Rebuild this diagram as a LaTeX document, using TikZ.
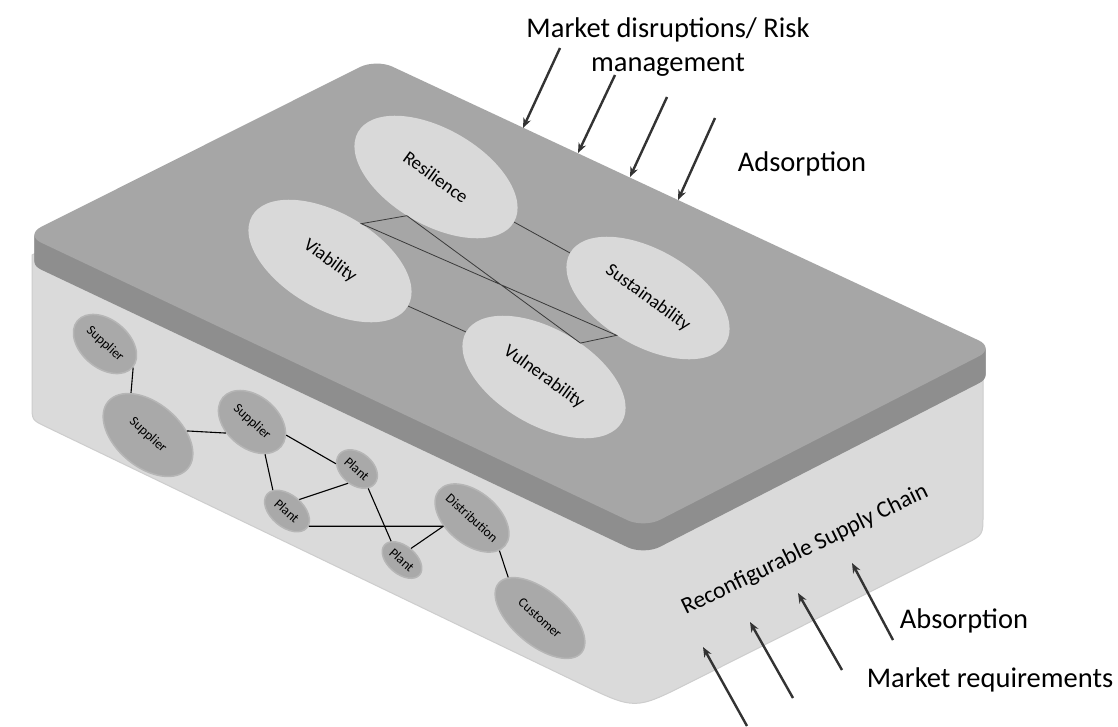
\documentclass[tikz,border=0pt]{standalone}
\usepackage{fontspec}
\setmainfont{Carlito}
\usetikzlibrary{shapes.geometric,arrows.meta}
\definecolor{topface}{HTML}{A6A6A6}
\definecolor{bandgray}{HTML}{8E8E8E}
\definecolor{boxgray}{HTML}{DADADA}
\definecolor{boxedge}{HTML}{CDCDCD}
\definecolor{ellgray}{HTML}{D9D9D9}
\definecolor{netgray}{HTML}{A9A9A9}
\definecolor{netrim}{HTML}{B6B6B6}
\definecolor{arrgray}{HTML}{333333}
\definecolor{linegray}{HTML}{3A3A3A}
\begin{document}
\begin{tikzpicture}[x=1pt,y=-1pt,
  topell/.style={ellipse, fill=ellgray, inner sep=0pt, minimum width=180pt, minimum height=96pt, rotate=-30},
  toptext/.style={font=\fontsize{18.5}{20}\selectfont, inner sep=0pt, rotate=-36},
  netell/.style={ellipse, fill=netgray, draw=netrim, line width=1.5pt, inner sep=0pt, rotate=-40},
  nettext/.style={font=\fontsize{13.5}{15}\selectfont, inner sep=0pt, rotate=-42},
  bigtext/.style={font=\fontsize{28.5}{34}\selectfont, inner sep=0pt, anchor=base},
  arr/.style={draw=arrgray, line width=2.4pt, -{Stealth[length=10pt,width=8pt]}},
  netline/.style={draw=black, line width=1.1pt},
  topline/.style={draw=linegray, line width=0.8pt}
]
\fill[white] (0,0) rectangle (1118,726);
\useasboundingbox (0,0) rectangle (1118,726);

% lower box
\fill[boxgray, draw=boxedge, line width=1pt]
  (32,255) -- (32,405) .. controls (32,420) .. (45.5,426.5)
  -- (580.9,684) .. controls (635,710) .. (688.6,683.1)
  -- (965.1,544) .. controls (983,535) .. (983,515)
  -- (983,360) -- (376,90) -- cycle;

% slab thickness
\foreach \d in {1,...,27}{
  \fill[bandgray, shift={(0,\d)}, rounded corners=18pt]
    (200.5,147) -- (376,59) -- (995,348) -- (644,528) -- (25,235) -- cycle;
}
% slab top face
\fill[topface, rounded corners=18pt]
  (200.5,147) -- (376,59) -- (995,348) -- (644,528) -- (25,235) -- cycle;

% top ellipses
\node[topell] (resil) at (436,177) {};
\node[topell] (viab)  at (330,261) {};
\node[topell] (sust)  at (648,298) {};
\node[topell] (vuln)  at (544,377) {};
\node[toptext] (resilT) at (resil.center) {Resilience};
\node[toptext] (viabT)  at (viab.center)  {Viability};
\node[toptext] (sustT)  at (sust.center)  {Sustainability};
\node[toptext] (vulnT)  at (vuln.center)  {Vulnerability};

\draw[topline] (resil.east) -- (sust.west);
\draw[topline] (viab.east) -- (vuln.west);
\draw[topline] (viab.80) -- (resil.263) -- (vuln.73) -- (sust.260) -- cycle;

% supply network
\node[netell, minimum width=72pt, minimum height=48pt]  (s1) at (105,344) {};
\node[netell, minimum width=104pt, minimum height=64pt] (s2) at (148,435) {};
\node[netell, minimum width=76pt, minimum height=52pt]  (s3) at (252,422) {};
\node[netell, minimum width=46pt, minimum height=32pt]  (p1) at (357,469) {};
\node[netell, minimum width=52pt, minimum height=32pt]  (p2) at (287,511) {};
\node[netell, minimum width=46pt, minimum height=28pt]  (p3) at (402,560) {};
\node[netell, minimum width=86pt, minimum height=52pt]  (dist) at (472,518) {};
\node[netell, minimum width=108pt, minimum height=54pt] (cust) at (540,618) {};
\node[nettext] (s1T) at (s1.center) {Supplier};
\node[nettext] (s2T) at (s2.center) {Supplier};
\node[nettext] (s3T) at (s3.center) {Supplier};
\node[nettext] (p1T) at (p1.center) {Plant};
\node[nettext] (p2T) at (p2.center) {Plant};
\node[nettext] (p3T) at (p3.center) {Plant};
\node[nettext] (distT) at (dist.center) {Distribution};
\node[nettext] (custT) at (cust.center) {Customer};

\draw[netline] (s1.east) -- (s2.152);
\draw[netline] (s2.46) -- (s3.243);
\draw[netline] (s3.19) -- (p1.206);
\draw[netline] (s3.-28) -- (p2.164);
\draw[netline] (p2.83) -- (p1.278);
\draw[netline] (p2.5) -- (dist.236);
\draw[netline] (p1.-20) -- (p3.160);
\draw[netline] (p3.92) -- (dist.236);
\draw[netline] (dist.-10) -- (cust.168);

% labels
\node[bigtext] (mkt1) at (668,37) {Market disruptions/ Risk};
\node[bigtext] (mkt2) at (668,71) {management};
\node[bigtext] (adso) at (802,171) {Adsorption};
\node[bigtext] (abso) at (964,628) {Absorption};
\node[bigtext] (mreq) at (990,687) {Market requirements};
\node[font=\fontsize{23.5}{26}\selectfont, inner sep=0pt, rotate=26] (rsc) at (805,550) {Reconfigurable Supply Chain};

% top arrows
\coordinate (ta1) at (560,48);  \coordinate (ha1) at (523,128);
\coordinate (ta2) at (615,75);  \coordinate (ha2) at (578,153);
\coordinate (ta3) at (667,97);  \coordinate (ha3) at (630,177);
\coordinate (ta4) at (715,118); \coordinate (ha4) at (678,200);
\draw[arr] (ta1) -- (ha1);
\draw[arr] (ta2) -- (ha2);
\draw[arr] (ta3) -- (ha3);
\draw[arr] (ta4) -- (ha4);

% bottom arrows
\coordinate (tb1) at (747,726); \coordinate (hb1) at (703,647);
\coordinate (tb2) at (793,698); \coordinate (hb2) at (750,622);
\coordinate (tb3) at (842,670); \coordinate (hb3) at (798,593);
\coordinate (tb4) at (893,640); \coordinate (hb4) at (852,563);
\draw[arr] (tb1) -- (hb1);
\draw[arr] (tb2) -- (hb2);
\draw[arr] (tb3) -- (hb3);
\draw[arr] (tb4) -- (hb4);
\end{tikzpicture}
\end{document}
